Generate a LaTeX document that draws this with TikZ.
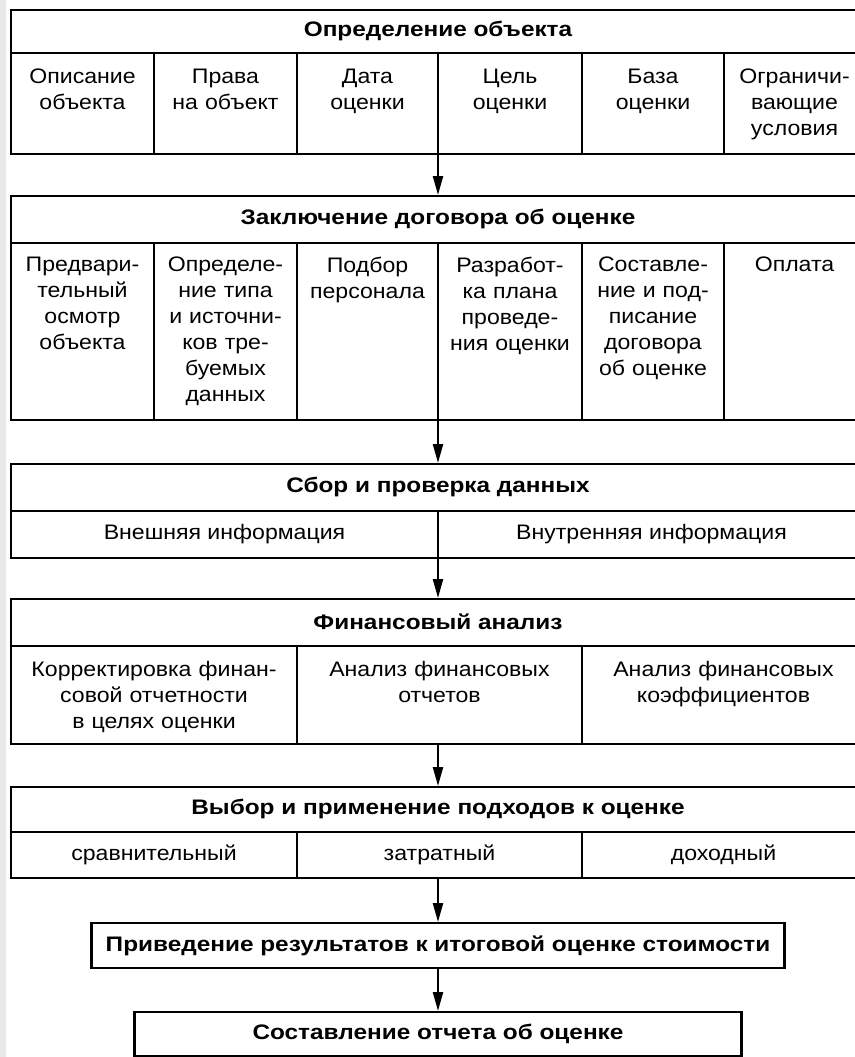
\documentclass[tikz,border=0pt]{standalone}
\usepackage{fontspec}
\setmainfont[FakeStretch=1.1]{Liberation Sans}
\newfontfamily\hdfont[FakeStretch=1.16]{Liberation Sans}
\usetikzlibrary{arrows.meta}
\begin{document}
\begin{tikzpicture}[x=1pt,y=-1pt,
  frame/.style={draw,line width=2.2pt,inner sep=0pt,anchor=north},
  sep/.style={line width=2.2pt},
  head/.style={font=\fontsize{21}{26}\hdfont\bfseries,inner sep=0pt,anchor=center},
  cell/.style={font=\fontsize{21}{26}\selectfont,inner sep=0pt,anchor=north,align=center,text width=138pt},
  wcell/.style={font=\fontsize{21}{26}\selectfont,inner sep=0pt,anchor=north,align=center,text width=280pt},
  row/.style={font=\fontsize{21}{26}\selectfont,inner sep=0pt,anchor=center},
  arr/.style={line width=2.2pt,-{Triangle[length=19pt,width=10pt]}}]
\useasboundingbox (0,0) rectangle (854,1057);
\fill[gray!18] (0,0) rectangle (6,1057);

% Box 1
\node[frame,minimum width=854pt,minimum height=144pt] (b1) at (438,9) {};
\node[head] (h1) at (438,31) {Определение объекта};
\draw[sep] (11,53) -- (865,53);
\foreach \x in {154,297,438,582,724} \draw[sep] (\x,53) -- (\x,153);
\node[cell] (c11) at (82.5,69) {Описание\\объекта};
\node[cell] (c12) at (225.5,69) {Права\\на объект};
\node[cell] (c13) at (367.5,69) {Дата\\оценки};
\node[cell] (c14) at (510,69) {Цель\\оценки};
\node[cell] (c15) at (653,69) {База\\оценки};
\node[cell] (c16) at (794.5,69) {Ограничи-\\вающие\\условия};

% Box 2
\node[frame,minimum width=854pt,minimum height=224pt] (b2) at (438,195) {};
\node[head] (h2) at (438,219) {Заключение договора об оценке};
\draw[sep] (11,243) -- (865,243);
\foreach \x in {154,297,438,582,724} \draw[sep] (\x,243) -- (\x,419);
\node[cell] (c21) at (82.5,257) {Предвари-\\тельный\\осмотр\\объекта};
\node[cell] (c22) at (225.5,257) {Определе-\\ние типа\\и источни-\\ков тре-\\буемых\\данных};
\node[cell] (c23) at (367.5,257) {Подбор\\персонала};
\node[cell] (c24) at (510,257) {Разработ-\\ка плана\\проведе-\\ния оценки};
\node[cell] (c25) at (653,257) {Составле-\\ние и под-\\писание\\договора\\об оценке};
\node[cell] (c26) at (794.5,257) {Оплата};

% Box 3
\node[frame,minimum width=854pt,minimum height=94pt] (b3) at (438,463) {};
\node[head] (h3) at (438,487) {Сбор и проверка данных};
\draw[sep] (11,511) -- (865,511);
\draw[sep] (438,511) -- (438,557);
\node[row] (c31) at (224.5,534) {Внешняя информация};
\node[row] (c32) at (651.5,534) {Внутренняя информация};

% Box 4
\node[frame,minimum width=854pt,minimum height=145pt] (b4) at (438,598) {};
\node[head] (h4) at (438,622) {Финансовый анализ};
\draw[sep] (11,646) -- (865,646);
\foreach \x in {297,582} \draw[sep] (\x,646) -- (\x,743);
\node[wcell] (c41) at (154,661) {Корректировка финан-\\совой отчетности\\в целях оценки};
\node[wcell] (c42) at (439.5,661) {Анализ финансовых\\отчетов};
\node[wcell] (c43) at (723.5,661) {Анализ финансовых\\коэффициентов};

% Box 5
\node[frame,minimum width=854pt,minimum height=91pt] (b5) at (438,786) {};
\node[head] (h5) at (438,809) {Выбор и применение подходов к оценке};
\draw[sep] (11,832) -- (865,832);
\foreach \x in {297,582} \draw[sep] (\x,832) -- (\x,877);
\node[row] (c51) at (154,855) {сравнительный};
\node[row] (c52) at (439.5,855) {затратный};
\node[row] (c53) at (723.5,855) {доходный};

% Box 6, 7
\node[frame,minimum width=693pt,minimum height=45pt,font=\fontsize{21}{26}\hdfont\bfseries] (b6) at (438,922) {Приведение результатов к итоговой оценке стоимости};
\node[frame,minimum width=607pt,minimum height=44pt,font=\fontsize{21}{26}\hdfont\bfseries] (b7) at (438,1011) {Составление отчета об оценке};

% Arrows
\draw[arr] (b1.south) -- (b2.north);
\draw[arr] (b2.south) -- (b3.north);
\draw[arr] (b3.south) -- (b4.north);
\draw[arr] (b4.south) -- (b5.north);
\draw[arr] (b5.south) -- (b6.north);
\draw[arr] (b6.south) -- (b7.north);
\end{tikzpicture}
\end{document}
